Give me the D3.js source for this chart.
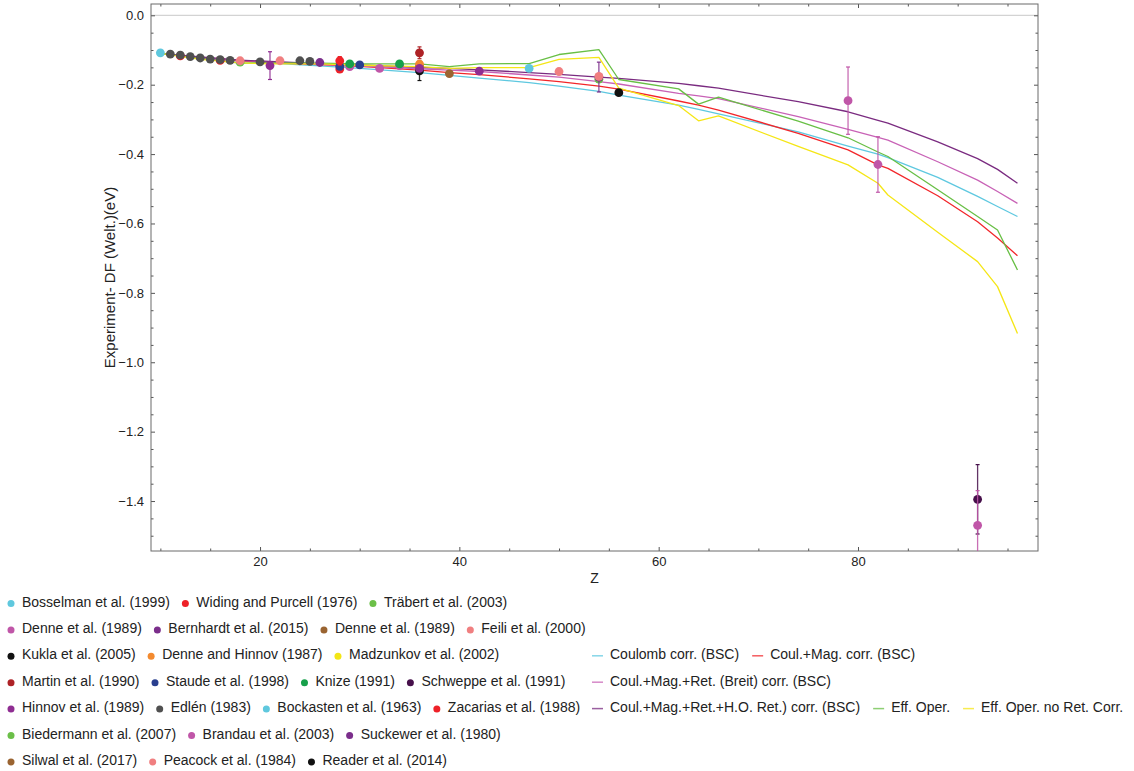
<!DOCTYPE html>
<html><head><meta charset="utf-8">
<script src="https://cdn.jsdelivr.net/npm/d3@7"></script>
<style>
body{margin:0;background:#fff;}
text{font-family:"Liberation Sans",Arial,sans-serif;}
</style></head>
<body><svg id="chart" width="1134" height="771"></svg>
<script>
// ---------- data ----------
const zTheory = [10,14,18,21,26,30,36,39,42,47,50,54,56,62,64,66,74,79,82,83,88,92,94,96];
const coulomb  = [-0.110,-0.122,-0.132,-0.138,-0.146,-0.153,-0.165,-0.173,-0.181,-0.194,-0.204,-0.219,-0.230,-0.259,-0.271,-0.284,-0.336,-0.377,-0.400,-0.410,-0.467,-0.522,-0.551,-0.580];
const coulMag  = [-0.110,-0.122,-0.131,-0.136,-0.142,-0.147,-0.158,-0.165,-0.171,-0.183,-0.191,-0.204,-0.213,-0.247,-0.259,-0.273,-0.340,-0.388,-0.431,-0.441,-0.520,-0.595,-0.642,-0.693];
const breit    = [-0.110,-0.121,-0.130,-0.135,-0.141,-0.146,-0.154,-0.158,-0.162,-0.172,-0.178,-0.191,-0.198,-0.225,-0.232,-0.240,-0.292,-0.329,-0.352,-0.360,-0.422,-0.475,-0.508,-0.542];
const hoRet    = [-0.110,-0.120,-0.129,-0.133,-0.139,-0.143,-0.150,-0.153,-0.157,-0.165,-0.170,-0.178,-0.182,-0.196,-0.203,-0.210,-0.249,-0.278,-0.303,-0.311,-0.365,-0.413,-0.444,-0.484];
const effOper  = [-0.110,-0.125,-0.138,-0.137,-0.138,-0.140,-0.140,-0.148,-0.140,-0.139,-0.113,-0.099,-0.185,-0.212,-0.256,-0.236,-0.305,-0.353,-0.394,-0.407,-0.503,-0.580,-0.619,-0.734];
const effNoRet = [-0.110,-0.127,-0.137,-0.140,-0.140,-0.144,-0.148,-0.153,-0.151,-0.151,-0.127,-0.121,-0.210,-0.260,-0.304,-0.290,-0.378,-0.431,-0.484,-0.518,-0.625,-0.710,-0.782,-0.917];

const theoryNames  = ["Coulomb corr. (BSC)","Coul.+Mag. corr. (BSC)","Coul.+Mag.+Ret. (Breit) corr. (BSC)","Coul.+Mag.+Ret.+H.O. Ret.) corr. (BSC)","Eff. Oper.","Eff. Oper. no Ret. Corr."];
const theoryValues = [coulomb, coulMag, breit, hoRet, effOper, effNoRet];
const theoryColors = ["#5ec8e0","#f2262a","#c862b6","#7a2b80","#68bf45","#f5e616"];

// experiments: [Z, value, error]
const bosselman = [[47,-0.153]];
const widing    = [[12,-0.117],[16,-0.130],[28,-0.155]];
const trabert   = [[18,-0.135],[54,-0.184]];
const denne     = [[29,-0.148],[32,-0.153],[34,-0.145]];
const bernhardt = [[54,-0.178,0.043]];
const denne2    = [[36,-0.146]];
const feili     = [[54,-0.176]];
const kukla     = [[36,-0.160,0.028]];
const denneHinnov = [[36,-0.141]];
const madzunkov = [];
const martin    = [[36,-0.108,0.017]];
const staude    = [[28,-0.147],[30,-0.143]];
const knize     = [[29,-0.140],[34,-0.140]];
const schweppe  = [[92,-1.395,0.100]];
const hinnov    = [[21,-0.145,0.040],[36,-0.153],[42,-0.161,0.006]];
const edlen     = [[11,-0.112],[12,-0.115],[13,-0.119],[14,-0.123],[15,-0.126],[16,-0.128],[17,-0.130],[20,-0.134],[24,-0.131],[25,-0.133]];
const bockasten = [[10,-0.108]];
const zacarias  = [[28,-0.131,0.012]];
const biedermann= [];
const brandau   = [[79,-0.246,0.097],[82,-0.430,0.080],[92,-1.470,0.100]];
const suckewer  = [[26,-0.136]];
const silwal    = [[39,-0.168]];
const peacock   = [[18,-0.131],[22,-0.131],[50,-0.162]];
const reader    = [[56,-0.223,0.006]];

const expNames = ["Bosselman et al. (1999)","Widing and Purcell (1976)","Träbert et al. (2003)","Denne et al. (1989)","Bernhardt et al. (2015)","Denne et al. (1989)","Feili et al. (2000)","Kukla et al. (2005)","Denne and Hinnov (1987)","Madzunkov et al. (2002)","Martin et al. (1990)","Staude et al. (1998)","Knize (1991)","Schweppe et al. (1991)","Hinnov et al. (1989)","Edlén (1983)","Bockasten et al. (1963)","Zacarias et al. (1988)","Biedermann et al. (2007)","Brandau et al. (2003)","Suckewer et al. (1980)","Silwal et al. (2017)","Peacock et al. (1984)","Reader et al. (2014)"];
const expData = [bosselman,widing,trabert,denne,bernhardt,denne2,feili,kukla,denneHinnov,madzunkov,martin,staude,knize,schweppe,hinnov,edlen,bockasten,zacarias,biedermann,brandau,suckewer,silwal,peacock,reader];
const expColors = ["#5fc8de","#ee2128","#6bbf48","#c056a8","#7b2e8b","#9a6431","#f07f80","#111111","#f38a2f","#f3e616","#ae2226","#293f8f","#17a04b","#47104b","#8f2d92","#505050","#5fc8de","#ee2128","#6bbf48","#c056a8","#7b2e8b","#9a6431","#f07f80","#111111"];

const xMajor = [20,40,60,80];
const yMajor = [0,-0.2,-0.4,-0.6,-0.8,-1.0,-1.2,-1.4];

// legend layout (rows of series indices)
const expLegendRows = [[0,1,2],[3,4,5,6],[7,8,9],[10,11,12,13],[14,15,16,17],[18,19,20],[21,22,23]];
const theoryLegendRows = [[0,1],[2],[3,4,5]];

// ---------- drawing ----------
const svg = d3.select("#chart");
const L=151, R=1038, T=4, B=551;
const x = d3.scaleLinear().domain([9.06, 98.06]).range([L, R]);
const y = d3.scaleLinear().domain([-1.544, 0.0326]).range([B, T]);

svg.append("defs").append("clipPath").attr("id","clip")
  .append("rect").attr("x",L).attr("y",T).attr("width",R-L).attr("height",B-T);

svg.append("line").attr("x1",L).attr("x2",R).attr("y1",y(0)).attr("y2",y(0))
  .attr("stroke","#c8c8c8").attr("stroke-width",1);

const xMinor = d3.range(10, 98, 5).filter(v => !xMajor.includes(v));
const yMinor = d3.range(-30, 1).map(i => +(i*0.05).toFixed(2)).filter(v => !yMajor.some(m => Math.abs(m-v)<1e-9) && v >= -1.54);
const fmt = d3.format(".1f");

function styleAxis(g){
  g.select(".domain").remove();
  g.selectAll(".tick line").attr("stroke","#555");
  g.selectAll(".tick text").attr("fill","#222").style("font-size","13px");
}
svg.append("g").attr("transform",`translate(0,${B})`).call(d3.axisBottom(x).tickValues(xMajor).tickSize(-4).tickPadding(6).tickFormat(d3.format("d"))).call(styleAxis);
svg.append("g").attr("transform",`translate(0,${B})`).call(d3.axisBottom(x).tickValues(xMinor).tickSize(-2.5).tickFormat("")).call(styleAxis);
svg.append("g").attr("transform",`translate(0,${T})`).call(d3.axisTop(x).tickValues(xMajor).tickSize(-4).tickFormat("")).call(styleAxis);
svg.append("g").attr("transform",`translate(0,${T})`).call(d3.axisTop(x).tickValues(xMinor).tickSize(-2.5).tickFormat("")).call(styleAxis);
svg.append("g").attr("transform",`translate(${L},0)`).call(d3.axisLeft(y).tickValues(yMajor).tickSize(-4).tickPadding(7).tickFormat(fmt)).call(styleAxis);
svg.append("g").attr("transform",`translate(${L},0)`).call(d3.axisLeft(y).tickValues(yMinor).tickSize(-2.5).tickFormat("")).call(styleAxis);
svg.append("g").attr("transform",`translate(${R},0)`).call(d3.axisRight(y).tickValues(yMajor).tickSize(-4).tickFormat("")).call(styleAxis);
svg.append("g").attr("transform",`translate(${R},0)`).call(d3.axisRight(y).tickValues(yMinor).tickSize(-2.5).tickFormat("")).call(styleAxis);

svg.append("rect").attr("x",L).attr("y",T).attr("width",R-L).attr("height",B-T)
  .attr("fill","none").attr("stroke","#6a6a6a").attr("stroke-width",1);

svg.append("text").attr("x",(L+R)/2).attr("y",583).attr("text-anchor","middle")
  .style("font-size","14px").attr("fill","#222").text("Z");
svg.append("text").attr("transform",`translate(115,${(T+B)/2}) rotate(-90)`).attr("text-anchor","middle")
  .style("font-size","15px").attr("fill","#222").text("Experiment- DF (Welt.)(eV)");

const plot = svg.append("g").attr("clip-path","url(#clip)");
const line = d3.line().x(d => x(d[0])).y(d => y(d[1]));
theoryValues.forEach((vals, i) => {
  plot.append("path").datum(zTheory.map((z, k) => [z, vals[k]]))
    .attr("d", line).attr("fill","none").attr("stroke", theoryColors[i])
    .attr("stroke-width",1.3).attr("stroke-linejoin","round");
});

expData.forEach((pts, i) => {
  const g = plot.append("g");
  pts.filter(p => p[2]).forEach(p => {
    g.append("line").attr("x1",x(p[0])).attr("x2",x(p[0])).attr("y1",y(p[1]-p[2])).attr("y2",y(p[1]+p[2]))
      .attr("stroke",expColors[i]).attr("stroke-width",1.3).attr("stroke-opacity",0.85);
    [p[1]-p[2], p[1]+p[2]].forEach(v => {
      g.append("line").attr("x1",x(p[0])-2).attr("x2",x(p[0])+2).attr("y1",y(v)).attr("y2",y(v))
        .attr("stroke",expColors[i]).attr("stroke-width",1.2);
    });
  });
  g.selectAll("circle").data(pts).join("circle")
    .attr("cx", d => x(d[0])).attr("cy", d => y(d[1])).attr("r",4.4)
    .attr("fill", expColors[i]);
});

const rowY0 = 601.5, rowStep = 26.4;
const lg = svg.append("g").style("font-size","14px");
expLegendRows.forEach((row, r) => {
  const cy = rowY0 + r*rowStep;
  let mx = 11;
  row.forEach(idx => {
    lg.append("circle").attr("cx",mx).attr("cy",cy+2).attr("r",3.5).attr("fill",expColors[idx]);
    const t = lg.append("text").attr("x",mx+11).attr("y",cy+5).attr("fill","#222").text(expNames[idx]);
    const w = t.node().getComputedTextLength();
    mx = mx + 11 + w + 15.5;
  });
});
theoryLegendRows.forEach((row, r) => {
  const cy = rowY0 + (r+2)*rowStep;
  let lx = 592;
  row.forEach(idx => {
    lg.append("line").attr("x1",lx).attr("x2",lx+11).attr("y1",cy+1.5).attr("y2",cy+1.5)
      .attr("stroke",theoryColors[idx]).attr("stroke-width",1.5).attr("stroke-opacity",0.75);
    const t = lg.append("text").attr("x",lx+18).attr("y",cy+5).attr("fill","#222").text(theoryNames[idx]);
    const w = t.node().getComputedTextLength();
    lx = lx + 18 + w + 13;
  });
});
</script></body></html>
